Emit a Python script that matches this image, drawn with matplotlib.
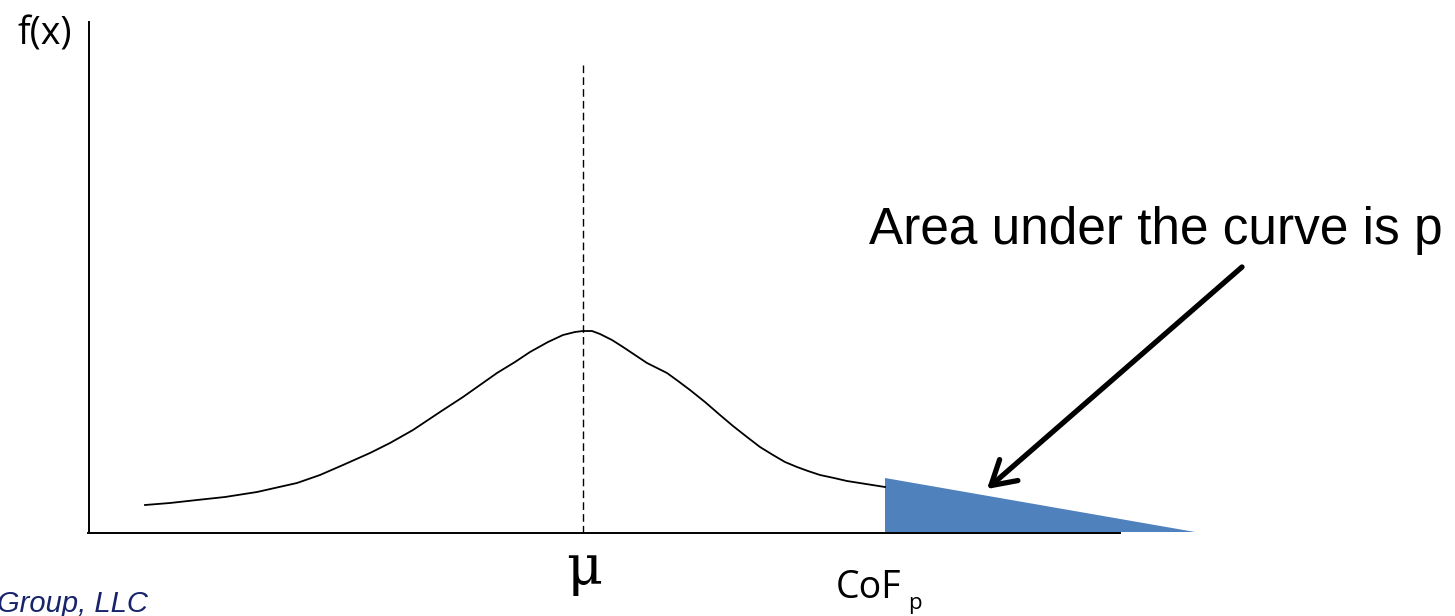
import matplotlib
matplotlib.use("Agg")
import matplotlib.pyplot as plt

# curve samples (pixel space)
curve_x = [145, 170, 197, 225, 257, 297, 320, 343, 370, 390, 413, 440, 463, 480, 497, 515, 530, 548, 563, 575, 583,
           592, 600, 612, 623, 635, 647, 657, 667, 678, 690, 705, 720, 733, 747, 760, 773, 785, 797, 808, 820, 834, 847, 866, 885]
curve_y = [505, 503, 500, 497, 492, 483, 475, 465, 453, 443, 430, 412, 397, 385, 373, 362, 352, 342, 335, 332, 331,
           331, 334, 340, 347, 355, 363, 368, 373, 381, 390, 402, 415, 426, 437, 447, 455, 462, 467, 471, 475, 478, 481, 484, 487]
tail_x = [885, 885, 1195]
tail_y = [478, 532, 532]
mu_x = 583

fig = plt.figure(figsize=(14.55, 6.16), dpi=100)
ax = fig.add_axes([0, 0, 1, 1])
ax.set_xlim(0, 1455)
ax.set_ylim(616, 0)
ax.axis("off")

# axes lines
ax.plot([89, 89], [22, 533], color="black", lw=1.4)
ax.plot([88, 1120], [533, 533], color="black", lw=1.4)

# curve
ax.plot(curve_x, curve_y, color="black", lw=1.3, solid_joinstyle="round")
# tail
ax.fill(tail_x, tail_y, color="#4f81bd", lw=0)
# dashed mean line
ax.plot([mu_x, mu_x], [65, 533], color="black", lw=1.0, ls=(0, (5.5, 3)))

# arrow
ax.annotate("", xy=(987, 489), xytext=(1242, 267),
            arrowprops=dict(arrowstyle="->,head_length=1.7,head_width=1.0", color="black", lw=3.8,
                            shrinkA=0, shrinkB=0))

ax.text(869, 244, "Area under the curve is p", fontsize=37, family="Liberation Sans",
        ha="left", va="baseline")
ax.text(17, 45, "f(x)", fontsize=27, family="Open Sans", ha="left", va="baseline")
ax.text(584, 584, "\u03bc", fontsize=40, family="DejaVu Serif", ha="center", va="baseline")
ax.text(836, 598, "CoF", fontsize=27, family="Open Sans", ha="left", va="baseline")
ax.text(908, 609, "p", fontsize=16, family="Open Sans", ha="left", va="baseline")
ax.text(148, 612, "Group, LLC", fontsize=21, family="Liberation Sans", style="italic",
        color="#17246b", ha="right", va="baseline")

fig.savefig("out.png", dpi=100)
